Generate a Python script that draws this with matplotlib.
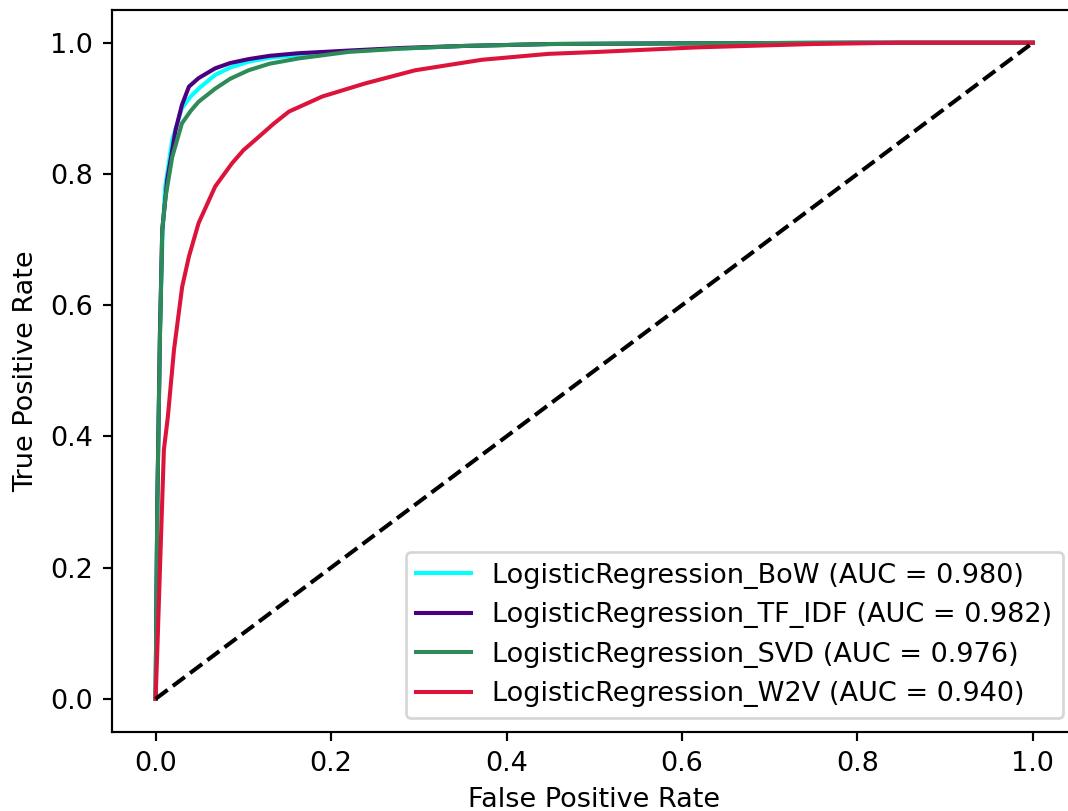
import numpy as np
import matplotlib
matplotlib.use("Agg")
import matplotlib.pyplot as plt

# ROC curve points (false positive rate, true positive rate) per model
fpr_bow = [0.0, 0.002, 0.005, 0.008, 0.011, 0.019, 0.030, 0.040, 0.049, 0.068, 0.085, 0.106, 0.130, 0.163, 0.220, 0.280, 0.350, 0.450, 0.600, 0.800, 1.0]
tpr_bow = [0.0, 0.30, 0.56, 0.71, 0.781, 0.852, 0.900, 0.918, 0.930, 0.951, 0.962, 0.971, 0.977, 0.981, 0.987, 0.991, 0.995, 0.998, 0.999, 1.0, 1.0]

fpr_tfidf = [0.0, 0.002, 0.005, 0.0076, 0.0133, 0.0228, 0.030, 0.038, 0.049, 0.068, 0.085, 0.106, 0.130, 0.163, 0.220, 0.280, 0.350, 0.450, 0.600, 0.800, 1.0]
tpr_tfidf = [0.0, 0.30, 0.56, 0.715, 0.791, 0.867, 0.905, 0.933, 0.946, 0.961, 0.969, 0.975, 0.980, 0.984, 0.988, 0.992, 0.995, 0.998, 0.999, 1.0, 1.0]

fpr_svd = [0.0, 0.002, 0.005, 0.0076, 0.0114, 0.019, 0.030, 0.040, 0.049, 0.068, 0.085, 0.106, 0.130, 0.163, 0.220, 0.280, 0.350, 0.450, 0.600, 0.800, 1.0]
tpr_svd = [0.0, 0.30, 0.55, 0.715, 0.765, 0.826, 0.877, 0.896, 0.910, 0.930, 0.945, 0.958, 0.968, 0.976, 0.986, 0.991, 0.995, 0.998, 0.999, 1.0, 1.0]

fpr_w2v = [0.0, 0.002, 0.0057, 0.0095, 0.014, 0.021, 0.0303, 0.038, 0.049, 0.068, 0.087, 0.100, 0.118, 0.135, 0.152, 0.190, 0.239, 0.296, 0.372, 0.448, 0.505, 0.619, 0.750, 0.850, 1.0]
tpr_w2v = [0.0, 0.075, 0.227, 0.38, 0.43, 0.532, 0.628, 0.674, 0.725, 0.781, 0.816, 0.836, 0.857, 0.877, 0.895, 0.918, 0.938, 0.958, 0.974, 0.983, 0.986, 0.993, 0.998, 1.0, 1.0]

model_names = ["LogisticRegression_BoW", "LogisticRegression_TF_IDF", "LogisticRegression_SVD", "LogisticRegression_W2V"]
auc_scores = [0.980, 0.982, 0.976, 0.940]
colors = ["aqua", "indigo", "seagreen", "crimson"]

curves = [(fpr_bow, tpr_bow), (fpr_tfidf, tpr_tfidf), (fpr_svd, tpr_svd), (fpr_w2v, tpr_w2v)]

fig = plt.figure(figsize=(1068 / 195, 811 / 195), dpi=195)
ax = fig.add_axes([0.1046, 0.0978, 0.9036, 0.890])

for (fpr, tpr), name, auc, color in zip(curves, model_names, auc_scores, colors):
    ax.plot(fpr, tpr, color=color, label=f"{name} (AUC = {auc:.3f})")

ax.plot([0, 1], [0, 1], "k--")
ax.set_xlabel("False Positive Rate")
ax.set_ylabel("True Positive Rate")
ax.legend(loc="lower right")

fig.savefig("out.png", dpi=195)
